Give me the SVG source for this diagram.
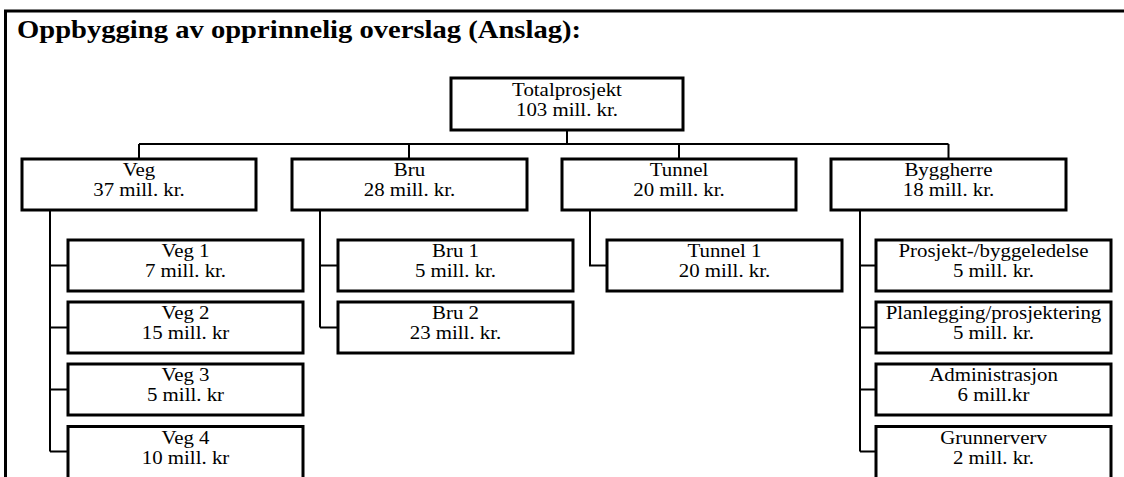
<svg xmlns="http://www.w3.org/2000/svg" width="1124" height="477" viewBox="0 0 1124 477">
<style>
.box{fill:#fff;stroke:#000;stroke-width:3}
.ln{fill:none;stroke:#000;stroke-width:2}
.t{font-family:"Liberation Serif","Times New Roman",serif;font-size:18px;text-anchor:middle;fill:#000}
.title{font-family:"Liberation Serif","Times New Roman",serif;font-size:26px;font-weight:bold;fill:#000}
</style>
<rect width="1124" height="477" fill="#fff"/>
<path d="M5.5,480 V11 H1130" fill="none" stroke="#000" stroke-width="3"/>
<text class="title" transform="translate(17,38.3) scale(1.1,1)">Oppbygging av opprinnelig overslag (Anslag):</text>

<g id="connectors">
<path class="ln" d="M567,130 V144 M139,144 H948.5 M139,144 V159 M409,144 V159 M679,144 V159 M948.5,144 V159"/>
<path class="ln" d="M50,210 V451.5 M50,265.5 H68 M50,327.5 H68 M50,389.5 H68 M50,451.5 H68"/>
<path class="ln" d="M320,210 V327.5 M320,265.5 H338 M320,327.5 H338"/>
<path class="ln" d="M590,210 V265.5 H607"/>
<path class="ln" d="M860,210 V451.5 M860,265.5 H876 M860,327.5 H876 M860,389.5 H876 M860,451.5 H876"/>
</g>

<g id="totalprosjekt"><rect class="box" x="451" y="78" width="232" height="52"/>
<text class="t" transform="translate(567,95.5) scale(1.16,1)">Totalprosjekt</text>
<text class="t" transform="translate(567,115.5) scale(1.16,1)">103 mill. kr.</text></g>

<g id="veg"><rect class="box" x="22" y="159" width="234" height="51"/>
<text class="t" transform="translate(139,176) scale(1.16,1)">Veg</text>
<text class="t" transform="translate(139,196) scale(1.16,1)">37 mill. kr.</text></g>
<g id="bru"><rect class="box" x="292" y="159" width="235" height="51"/>
<text class="t" transform="translate(409.5,176) scale(1.16,1)">Bru</text>
<text class="t" transform="translate(409.5,196) scale(1.16,1)">28 mill. kr.</text></g>
<g id="tunnel"><rect class="box" x="562" y="159" width="234" height="51"/>
<text class="t" transform="translate(679,176) scale(1.16,1)">Tunnel</text>
<text class="t" transform="translate(679,196) scale(1.16,1)">20 mill. kr.</text></g>
<g id="byggherre"><rect class="box" x="831" y="159" width="235" height="51"/>
<text class="t" transform="translate(948.5,176) scale(1.16,1)">Byggherre</text>
<text class="t" transform="translate(948.5,196) scale(1.16,1)">18 mill. kr.</text></g>

<g id="veg1"><rect class="box" x="68" y="240" width="235" height="51"/>
<text class="t" transform="translate(185.5,257) scale(1.16,1)">Veg 1</text>
<text class="t" transform="translate(185.5,277) scale(1.16,1)">7 mill. kr.</text></g>
<g id="veg2"><rect class="box" x="68" y="302" width="235" height="51"/>
<text class="t" transform="translate(185.5,319) scale(1.16,1)">Veg 2</text>
<text class="t" transform="translate(185.5,339) scale(1.16,1)">15 mill. kr</text></g>
<g id="veg3"><rect class="box" x="68" y="364" width="235" height="51"/>
<text class="t" transform="translate(185.5,381) scale(1.16,1)">Veg 3</text>
<text class="t" transform="translate(185.5,401) scale(1.16,1)">5 mill. kr</text></g>
<g id="veg4"><rect class="box" x="68" y="426.5" width="235" height="56"/>
<text class="t" transform="translate(185.5,443.5) scale(1.16,1)">Veg 4</text>
<text class="t" transform="translate(185.5,463.5) scale(1.16,1)">10 mill. kr</text></g>

<g id="bru1"><rect class="box" x="338" y="240" width="235" height="51"/>
<text class="t" transform="translate(455.5,257) scale(1.16,1)">Bru 1</text>
<text class="t" transform="translate(455.5,277) scale(1.16,1)">5 mill. kr.</text></g>
<g id="bru2"><rect class="box" x="338" y="302" width="235" height="51"/>
<text class="t" transform="translate(455.5,319) scale(1.16,1)">Bru 2</text>
<text class="t" transform="translate(455.5,339) scale(1.16,1)">23 mill. kr.</text></g>

<g id="tunnel1"><rect class="box" x="607" y="240" width="235" height="51"/>
<text class="t" transform="translate(724.5,257) scale(1.16,1)">Tunnel 1</text>
<text class="t" transform="translate(724.5,277) scale(1.16,1)">20 mill. kr.</text></g>

<g id="prosjektledelse"><rect class="box" x="876" y="240" width="235" height="51"/>
<text class="t" transform="translate(993.5,257) scale(1.16,1)">Prosjekt-/byggeledelse</text>
<text class="t" transform="translate(993.5,277) scale(1.16,1)">5 mill. kr.</text></g>
<g id="planlegging"><rect class="box" x="876" y="302" width="235" height="51"/>
<text class="t" transform="translate(993.5,319) scale(1.16,1)">Planlegging/prosjektering</text>
<text class="t" transform="translate(993.5,339) scale(1.16,1)">5 mill. kr.</text></g>
<g id="administrasjon"><rect class="box" x="876" y="364" width="235" height="51"/>
<text class="t" transform="translate(993.5,381) scale(1.16,1)">Administrasjon</text>
<text class="t" transform="translate(993.5,401) scale(1.16,1)">6 mill.kr</text></g>
<g id="grunnerverv"><rect class="box" x="876" y="426.5" width="235" height="56"/>
<text class="t" transform="translate(993.5,443.5) scale(1.16,1)">Grunnerverv</text>
<text class="t" transform="translate(993.5,463.5) scale(1.16,1)">2 mill. kr.</text></g>
</svg>
